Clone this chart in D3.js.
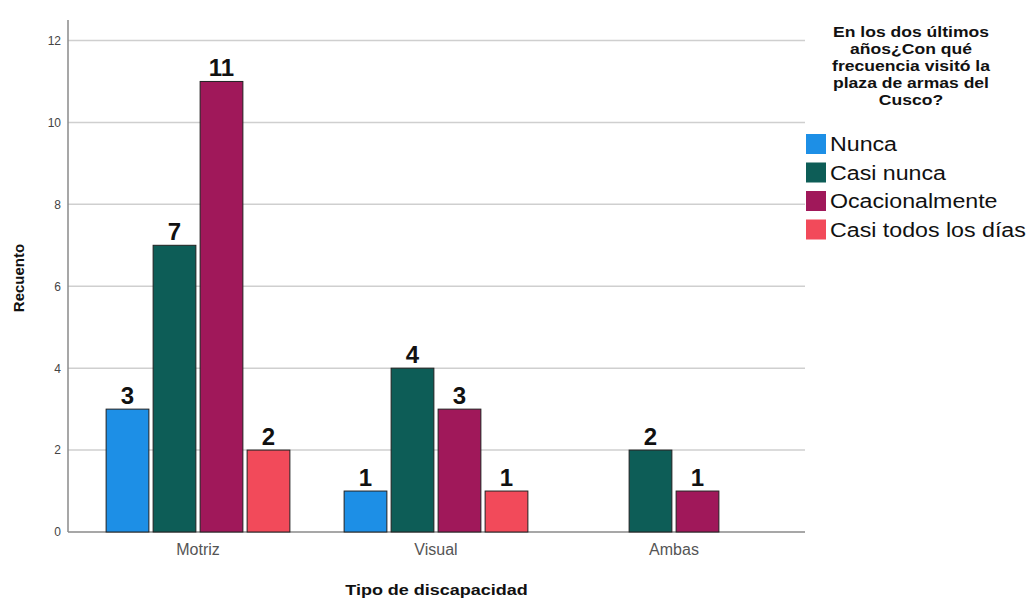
<!DOCTYPE html>
<html>
<head>
<meta charset="utf-8">
<script src="https://cdn.jsdelivr.net/npm/d3@7/dist/d3.min.js"></script>
<style>
  html, body { margin: 0; padding: 0; background: #fff; }
  svg { display: block; font-family: "Liberation Sans", Arial, sans-serif; }
</style>
</head>
<body>
<svg id="chart" width="1027" height="599"></svg>
<script>
// Counts by type of disability and visit frequency
const categories = ["Motriz", "Visual", "Ambas"];
const seriesNames = ["Nunca", "Casi nunca", "Ocacionalmente", "Casi todos los días"];
const nunca = [3, 1, 0];
const casiNunca = [7, 4, 2];
const ocasionalmente = [11, 3, 1];
const casiTodos = [2, 1, 0];
const seriesValues = [nunca, casiNunca, ocasionalmente, casiTodos];
const yTicks = [0, 2, 4, 6, 8, 10, 12];
const colors = ["#1d8fe6", "#0d5d57", "#a0185a", "#f24a5a"];
const legendTitle = ["En los dos últimos", "años¿Con qué", "frecuencia visitó la", "plaza de armas del", "Cusco?"];
const xTitle = "Tipo de discapacidad";
const yTitle = "Recuento";

const svg = d3.select("#chart");

// Plot frame
const plot = { left: 68, right: 805, top: 20, bottom: 532 };

const y = d3.scaleLinear().domain([0, 12]).range([plot.bottom, 40.5]);
const x0 = d3.scaleBand().domain(categories).range([79, 793]).paddingInner(0).paddingOuter(0);
const x1 = d3.scaleBand().domain(d3.range(seriesNames.length))
  .range([(238 - 188) / 2, (238 + 188) / 2]).paddingInner(0.09).paddingOuter(0.045);

// Horizontal grid lines
svg.append("g")
  .selectAll("line")
  .data(yTicks.filter(d => d > 0))
  .join("line")
  .attr("x1", plot.left).attr("x2", plot.right)
  .attr("y1", d => y(d)).attr("y2", d => y(d))
  .attr("stroke", "#cfcfcf").attr("stroke-width", 1.5);

// Y axis
const yAxis = svg.append("g")
  .attr("transform", `translate(${plot.left},0)`)
  .call(d3.axisLeft(y).tickValues(yTicks).tickSize(0).tickPadding(7));
yAxis.select(".domain").attr("stroke", "#8a8a8a").attr("stroke-width", 1.5)
  .attr("d", `M0,${plot.bottom}V${plot.top}`);
yAxis.selectAll("text").attr("font-size", 12).attr("fill", "#444")
  .attr("font-family", "Liberation Sans, Arial, sans-serif");

// X axis
const xAxis = svg.append("g")
  .attr("transform", `translate(0,${plot.bottom})`)
  .call(d3.axisBottom(x0).tickSize(0).tickPadding(12));
xAxis.select(".domain").attr("stroke", "#8a8a8a").attr("stroke-width", 1.5)
  .attr("d", `M${plot.left},0H${plot.right}`);
xAxis.selectAll("text").attr("font-size", 16).attr("fill", "#555")
  .attr("font-family", "Liberation Sans, Arial, sans-serif");

// Bars
const groups = svg.append("g")
  .selectAll("g")
  .data(categories)
  .join("g")
  .attr("transform", d => `translate(${x0(d)},0)`);

const cells = groups.selectAll("g")
  .data((c, ci) => seriesValues.map((vals, si) => ({ si, v: vals[ci] })).filter(d => d.v > 0))
  .join("g");

cells.append("rect")
  .attr("x", d => x1(d.si))
  .attr("width", x1.bandwidth())
  .attr("y", d => y(d.v))
  .attr("height", d => y(0) - y(d.v))
  .attr("fill", d => colors[d.si])
  .attr("stroke", "#222").attr("stroke-width", 1);

cells.append("text")
  .attr("x", d => x1(d.si) + x1.bandwidth() / 2)
  .attr("y", d => y(d.v) - 5)
  .attr("text-anchor", "middle")
  .attr("font-size", 24).attr("font-weight", "bold").attr("fill", "#111")
  .text(d => d.v);

// Axis titles
svg.append("text")
  .attr("transform", `translate(${(plot.left + plot.right) / 2},595) scale(1.2,1)`)
  .attr("text-anchor", "middle")
  .attr("font-size", 15).attr("font-weight", "bold").attr("fill", "#111")
  .text(xTitle);

svg.append("text")
  .attr("transform", `translate(24,278) rotate(-90)`)
  .attr("text-anchor", "middle")
  .attr("font-size", 15).attr("font-weight", "bold").attr("fill", "#111")
  .text(yTitle);

// Legend
const legend = svg.append("g");
legend.selectAll("text.title")
  .data(legendTitle)
  .join("text")
  .attr("class", "title")
  .attr("transform", (d, i) => `translate(911,${37 + i * 17}) scale(1.17,1)`)
  .attr("text-anchor", "middle")
  .attr("font-size", 15).attr("font-weight", "bold").attr("fill", "#111")
  .text(d => d);

const items = legend.selectAll("g.item")
  .data(seriesNames)
  .join("g")
  .attr("class", "item")
  .attr("transform", (d, i) => `translate(806,${134 + i * 28.5})`);

items.append("rect")
  .attr("width", 20).attr("height", 20)
  .attr("fill", (d, i) => colors[i]);

items.append("text")
  .attr("transform", "translate(24,17) scale(1.16,1)")
  .attr("font-size", 20).attr("fill", "#111")
  .text(d => d);
</script>
</body>
</html>
